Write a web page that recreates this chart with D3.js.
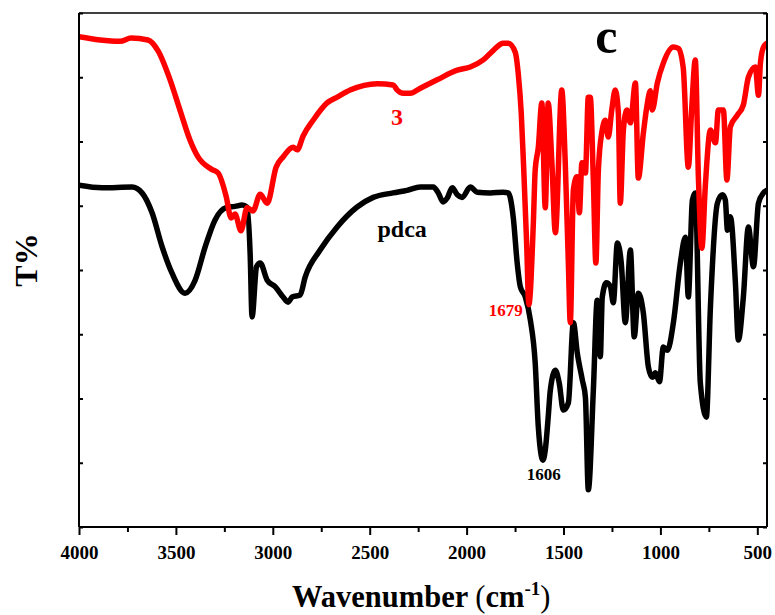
<!DOCTYPE html>
<html>
<head>
<meta charset="utf-8">
<script src="https://cdn.jsdelivr.net/npm/d3@7"></script>
<style>
  html, body { margin: 0; padding: 0; background: #fff; }
  svg { display: block; }
  text { font-family: "Liberation Serif", "Times New Roman", serif; font-weight: bold; }
</style>
</head>
<body>
<svg id="chart" width="775" height="615"></svg>
<script>
// ---- Data (wavenumber in cm^-1, transmittance in arbitrary T% units) ----
const redWavenumber = [4000,3892,3788,3731,3644,3592,3530,3479,3427,3386,3318,3282,3241,3215,3195,3164,3133,3102,3065,3029,2983,2947,2895,2874,2843,2792,2720,2668,2601,2461,2379,2358,2327,2291,2239,2152,2048,1981,1914,1862,1811,1785,1749,1733,1718,1705,1690,1679,1656,1646,1630,1612,1594,1579,1560,1542,1509,1491,1475,1465,1449,1431,1418,1405,1387,1372,1362,1346,1333,1320,1302,1284,1269,1251,1233,1217,1207,1191,1173,1155,1129,1114,1088,1070,1052,1042,1016,985,933,907,882,856,838,820,804,786,768,742,716,701,675,657,639,603,572,546,510,494,484,468,450];
const redT = [76.3,75.8,75.6,76.1,75.8,74.1,69.6,64.9,60.2,57.6,55.7,55.1,51.5,48.1,48.7,46.1,49.7,49.2,51.8,50.4,56.0,57.6,59.1,58.7,60.9,63.3,66.0,66.9,68.0,69.0,68.8,68.0,67.5,67.5,68.3,69.6,71.1,71.6,72.7,74.2,75.3,75.3,73.9,70.4,64.4,55.5,44.0,34.6,47.0,55.6,59.1,66.0,49.7,66.0,56.7,45.8,68.0,56.7,41.1,31.8,52.5,54.5,48.9,56.7,55.1,66.9,66.9,54.0,41.1,55.6,61.5,63.3,60.7,64.9,68.0,64.4,50.4,61.8,64.9,62.9,69.1,54.3,61.3,65.4,67.9,64.9,69.1,72.2,74.7,74.5,71.4,56.0,65.4,72.7,54.5,43.4,53.2,61.8,59.8,64.9,64.9,54.0,62.3,64.1,65.7,70.0,71.6,67.2,72.2,74.7,75.3];

const blackWavenumber = [4000,3881,3726,3675,3623,3571,3520,3453,3401,3349,3298,3241,3195,3158,3133,3117,3107,3084,3065,3029,2988,2947,2921,2900,2859,2833,2756,2668,2565,2482,2379,2307,2239,2172,2146,2121,2100,2074,2048,2023,1981,1945,1878,1811,1785,1759,1739,1723,1697,1671,1646,1630,1606,1594,1579,1568,1542,1522,1501,1475,1449,1429,1403,1387,1372,1346,1326,1310,1300,1279,1258,1243,1222,1202,1181,1155,1135,1114,1088,1062,1042,1026,1005,985,964,933,897,871,856,835,820,794,763,742,706,680,665,654,639,613,598,572,546,520,494,468,450];
const blackT = [53.2,52.8,52.9,52.0,48.9,43.6,39.5,36.4,38.4,43.6,47.8,49.7,49.9,50.1,49.8,42.6,32.7,40.5,41.1,38.4,37.4,35.8,35.0,35.8,36.1,38.9,43.1,46.7,49.8,51.3,52.0,52.4,52.9,52.9,52.0,50.6,51.2,52.8,51.7,51.3,52.9,52.1,52.0,52.1,52.0,48.1,41.1,37.4,35.8,32.2,25.5,15.6,10.4,12.0,17.1,21.3,24.4,22.4,18.2,19.3,31.8,27.1,22.9,20.2,5.8,21.3,35.3,26.5,35.8,38.0,37.4,34.9,44.2,41.1,31.8,43.1,29.6,36.4,33.3,24.9,23.3,24.0,22.6,28.0,27.5,31.8,41.1,45.1,35.8,50.9,52.0,22.4,17.1,34.2,50.4,51.7,50.9,46.2,48.3,38.0,29.1,35.8,46.7,40.5,50.4,52.0,52.4];

const xMajorTicks = [4000,3500,3000,2500,2000,1500,1000,500];
const xMinorTicks = [3750,3250,2750,2250,1750,1250,750];
const yTicks = [0,10,20,30,40,50,60,70,80];
const xDomain = [4000,450];
const yDomain = [0,80];

const annotations = [
  {text: "c", wn: 1279, t: 73.8, size: 50, color: "#000", anchor: "middle"},
  {text: "3", wn: 2390, t: 62.6, size: 24, color: "#ff0000", anchor: "start"},
  {text: "pdca", wn: 2460, t: 45.1, size: 24, color: "#000", anchor: "start"},
  {text: "1679", wn: 1710, t: 32.8, size: 17, color: "#ff0000", anchor: "end"},
  {text: "1606", wn: 1690, t: 7.3, size: 17, color: "#000", anchor: "start"}
];

// ---- Layout ----
const svg = d3.select("#chart");
const margin = {left: 79, right: 8, top: 13, bottom: 88};
const W = 775, H = 615;
const x = d3.scaleLinear().domain(xDomain).range([margin.left, W - margin.right]);
const y = d3.scaleLinear().domain(yDomain).range([H - margin.bottom, margin.top]);

const redData = redWavenumber.map((w, i) => ({w, t: redT[i]}));
const blackData = blackWavenumber.map((w, i) => ({w, t: blackT[i]}));

const line = d3.line().x(d => x(d.w)).y(d => y(d.t)).curve(d3.curveMonotoneX);

svg.append("defs").append("clipPath").attr("id", "clip")
  .append("rect").attr("x", margin.left).attr("y", margin.top)
  .attr("width", W - margin.left - margin.right).attr("height", H - margin.top - margin.bottom);

const plot = svg.append("g").attr("clip-path", "url(#clip)");
plot.append("path").datum(blackData).attr("d", line)
  .attr("fill", "none").attr("stroke", "#000").attr("stroke-width", 5.5)
  .attr("stroke-linejoin", "round").attr("stroke-linecap", "round");
plot.append("path").datum(redData).attr("d", line)
  .attr("fill", "none").attr("stroke", "#ff0000").attr("stroke-width", 5.5)
  .attr("stroke-linejoin", "round").attr("stroke-linecap", "round");

// axes
const x0 = y.range()[0];
const gx = svg.append("g").attr("transform", `translate(0,${x0})`)
  .call(d3.axisBottom(x).tickValues(xMajorTicks).tickSize(8).tickPadding(11).tickFormat(d3.format("d")));
gx.selectAll("text").attr("font-size", 19).attr("font-family", "Liberation Serif").attr("font-weight", "bold").attr("fill", "#000");
const gxm = svg.append("g").attr("transform", `translate(0,${x0})`)
  .call(d3.axisBottom(x).tickValues(xMinorTicks).tickSize(5).tickFormat(""));
gxm.select(".domain").remove();

const gyl = svg.append("g").attr("transform", `translate(${margin.left},0)`)
  .call(d3.axisLeft(y).tickValues(yTicks).tickSize(-4).tickFormat(""));
const gyr = svg.append("g").attr("transform", `translate(${W - margin.right},0)`)
  .call(d3.axisRight(y).tickValues(yTicks).tickSize(-4).tickFormat(""));
[gx, gxm, gyl, gyr].forEach(g => {
  g.selectAll(".domain").attr("stroke", "#000").attr("stroke-width", 2);
  g.selectAll(".tick line").attr("stroke", "#000").attr("stroke-width", 2);
});
gyl.select(".domain").attr("d", `M0,${y.range()[0]}V${y.range()[1]}`);
gyr.select(".domain").attr("d", `M0,${y.range()[0]}V${y.range()[1]}`);
gx.select(".domain").attr("d", `M${x.range()[0]},0H${x.range()[1]}`);
svg.append("line").attr("x1", x.range()[0]).attr("x2", x.range()[1])
  .attr("y1", y.range()[1]).attr("y2", y.range()[1])
  .attr("stroke", "#000").attr("stroke-width", 1.5);

annotations.forEach(a => {
  svg.append("text").attr("x", x(a.wn)).attr("y", y(a.t))
    .attr("text-anchor", a.anchor).attr("font-size", a.size).attr("fill", a.color)
    .text(a.text);
});

svg.append("text").attr("transform", "translate(37,260) rotate(-90)")
  .attr("text-anchor", "middle").attr("font-size", 32).text("T%");

const xl = svg.append("text").attr("x", 292).attr("y", 607).attr("font-size", 30.5).attr("text-anchor", "start");
xl.append("tspan").text("Wavenumber ");
xl.append("tspan").attr("font-weight", "normal").text("(");
xl.append("tspan").text("cm");
xl.append("tspan").attr("font-size", 19).attr("dy", -12).text("-1");
xl.append("tspan").attr("font-weight", "normal").attr("dy", 12).text(")");
</script>
</body>
</html>
